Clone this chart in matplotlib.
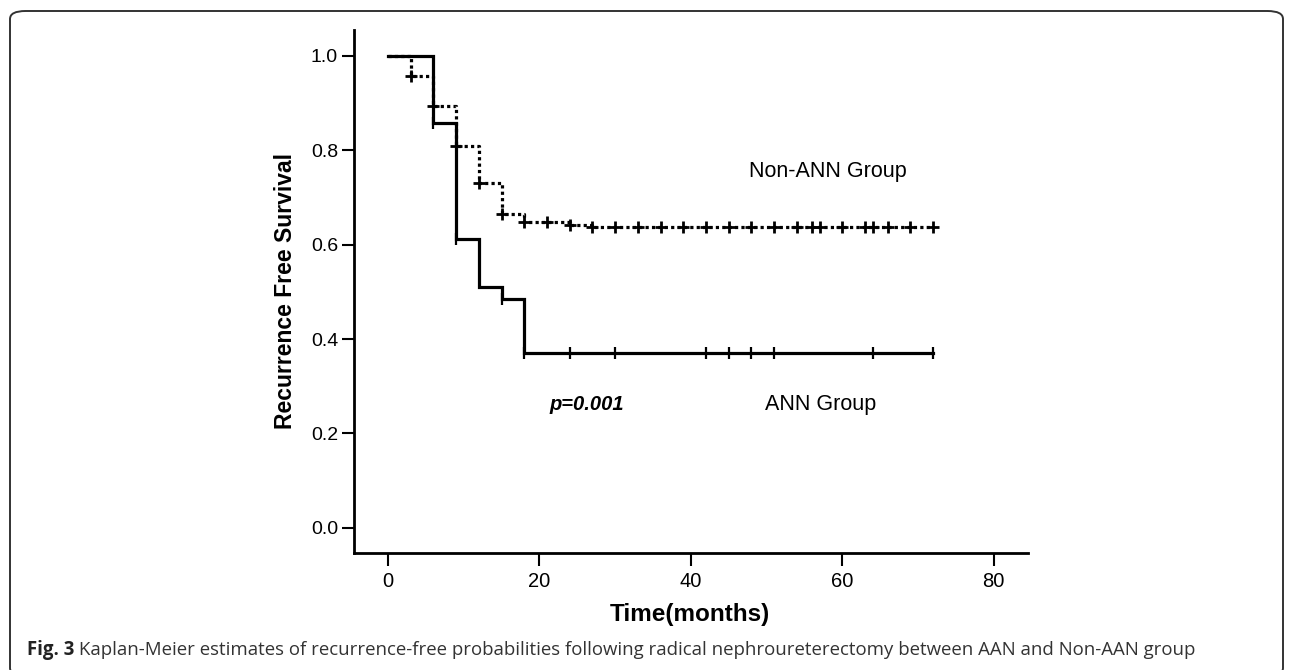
import numpy as np
import matplotlib
matplotlib.use("Agg")
import matplotlib.pyplot as plt
from matplotlib.patches import FancyBboxPatch

# ---- data ----
ann_times = [0, 6, 9, 12, 15, 18, 72]
ann_surv = [1.0, 0.857, 0.612, 0.510, 0.485, 0.371, 0.371]
ann_censor = [6, 9, 15, 18, 24, 30, 42, 45, 48, 51, 64, 72]

non_times = [0, 3, 6, 9, 12, 15, 18, 24, 27, 72]
non_surv = [1.0, 0.958, 0.894, 0.809, 0.731, 0.665, 0.649, 0.642, 0.637, 0.637]
non_censor = [3, 6, 9, 12, 15, 18, 21, 24, 27, 30, 33, 36, 39, 42, 45, 48, 51,
              54, 56, 57, 60, 63, 64, 66, 69, 72]

x_ticks = [0, 20, 40, 60, 80]
y_ticks = [0.0, 0.2, 0.4, 0.6, 0.8, 1.0]
y_ticklabels = ["0.0", "0.2", "0.4", "0.6", "0.8", "1.0"]

FONT = ["Liberation Sans", "DejaVu Sans"]
plt.rcParams["font.family"] = FONT

W, H = 1292, 670
fig = plt.figure(figsize=(W / 100, H / 100), dpi=100)

# frame
frame = FancyBboxPatch((10 / W, 1 - 676 / H), 1273 / W, (676 - 11) / H,
                       boxstyle="round,pad=0,rounding_size=0.012",
                       transform=fig.transFigure, fill=False,
                       edgecolor="#333333", linewidth=1.4, clip_on=False)
fig.patches.append(frame)

ax = fig.add_axes([354 / W, 1 - 553.3 / H, (1027.7 - 354) / W, (553.3 - 30) / H])


def step_value(times, surv, t):
    idx = np.searchsorted(np.asarray(times), t, side="right") - 1
    return np.asarray(surv)[idx]


# ANN (solid)
ax.step(ann_times, ann_surv, where="post", color="black", lw=2.3, solid_joinstyle="miter")
ax.plot(ann_censor, [step_value(ann_times, ann_surv, t) for t in ann_censor],
        ls="none", marker="|", ms=9, mew=1.6, color="black")

# Non-ANN (dotted)
ax.step(non_times, non_surv, where="post", color="black", lw=2.3,
        linestyle=(0, (1.0, 1.0)))
ax.plot(non_censor, [step_value(non_times, non_surv, t) for t in non_censor],
        ls="none", marker="+", ms=9, mew=2.0, color="black")

ax.set_xlim(-4.5, 84.5)
ax.set_ylim(-0.054, 1.055)
ax.set_xticks(x_ticks)
ax.set_yticks(y_ticks)
ax.set_yticklabels(y_ticklabels)
for s in ["top", "right"]:
    ax.spines[s].set_visible(False)
for s in ["left", "bottom"]:
    ax.spines[s].set_linewidth(2.0)
ax.tick_params(axis="x", direction="out", length=9.5, width=1.5, pad=4, labelsize=14.5)
ax.tick_params(axis="y", direction="out", length=8.5, width=1.5, pad=3, labelsize=14)

fig.text(690 / W, 1 - 615 / H, "Time(months)", ha="center", va="center",
         fontsize=17.5, fontweight="bold")
fig.text(285 / W, 1 - 291 / H, "Recurrence Free Survival", ha="center", va="center",
         rotation=90, fontsize=16.5, fontweight="bold")

ax.text(58.1, 0.756, "Non-ANN Group", ha="center", va="center", fontsize=15.5)
ax.text(49.8, 0.262, "ANN Group", ha="left", va="center", fontsize=15.5)
ax.text(21.3, 0.262, "p=0.001", ha="left", va="center", fontsize=14.5,
        fontweight="bold", fontstyle="italic")

# caption
cap_font = ["Open Sans", "DejaVu Sans"]
fs = 13
t1 = fig.text(27 / W, 1 - 655 / H, "Fig. 3", ha="left", va="baseline",
              fontsize=fs, fontweight="bold", family=cap_font, color="#222222")
rest = (" Kaplan-Meier estimates of recurrence-free probabilities following radical "
        "nephroureterectomy between AAN and Non-AAN group")
fig.canvas.draw()
r = fig.canvas.get_renderer()
b1 = t1.get_window_extent(r)
t2 = fig.text(b1.x1 / W, 1 - 655 / H, rest, ha="left", va="baseline",
              fontsize=fs, family=cap_font, color="#333333")
fig.canvas.draw()
b2 = t2.get_window_extent(r)
total = b2.x1 - b1.x0
scale = (1189 - 27) / total
fs2 = fs * scale
t1.set_fontsize(fs2)
fig.canvas.draw()
b1 = t1.get_window_extent(r)
t2.set_fontsize(fs2)
t2.set_x(b1.x1 / W)

fig.savefig("out.png", dpi=100)
